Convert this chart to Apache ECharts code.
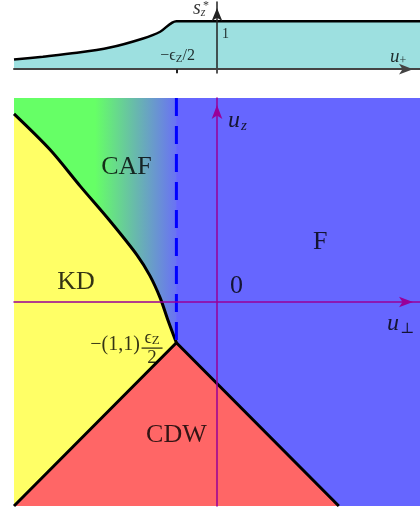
<!DOCTYPE html>
<html>
<head>
<meta charset="utf-8">
<script src="https://cdn.jsdelivr.net/npm/echarts@6/dist/echarts.min.js"></script>
<style>
  html, body { margin: 0; padding: 0; background: #fff; }
  #main { width: 420px; height: 510px; }
</style>
</head>
<body>
<div id="main"></div>
<script>
// top strip: s_z* against u_perp (eps_z/2 = 1)
var sCurveU = [-5, -4.29, -3.45, -2.64, -1.82, -1.4, -1, 5];
var sCurveS = [0.20, 0.26, 0.34, 0.45, 0.64, 0.78, 1.0, 1.0];
// KD / CAF boundary
var kdU = [-5.00, -4.11, -3.37, -2.64, -1.97, -1.65, -1.40, -1.21, -1.00];
var kdZ = [4.61, 3.73, 2.84, 1.99, 1.15, 0.64, 0.10, -0.44, -1.00];
// CDW wedge: left foot, kink, right foot
var cdwU = [-5, -1, 3];
var cdwZ = [-5, -1, -5];
// CAF / F edge (dashed)
var cafU = [-1, -1];
var cafZ = [5, -1];
// phase diagram box
var boxU = [-5, 5];
var boxZ = [-5, 5];

var serif = 'Liberation Serif, DejaVu Serif, serif';
var purple = '#990099';

function zip(a, b) {
  var out = [];
  for (var i = 0; i < a.length; i++) out.push([a[i], b[i]]);
  return out;
}

var kd = zip(kdU, kdZ);
var greenPts = [[boxU[0], boxZ[1]], [cafU[0], cafZ[0]]].concat(kd.slice().reverse());
var yellowPts = kd.concat([[cdwU[0], cdwZ[0]]]);
var redPts = zip(cdwU, cdwZ);

// filled region on the phase grid
function region(pts, fill) {
  return {
    type: 'custom', xAxisIndex: 1, yAxisIndex: 1, z: 1, silent: true,
    data: [0],
    renderItem: function (params, api) {
      return {
        type: 'polygon',
        shape: { points: pts.map(function (p) { return api.coord(p); }) },
        style: { fill: fill }
      };
    }
  };
}

function lab(x, y, text, extra) {
  var l = { show: true, position: 'inside', formatter: text, color: '#000',
    fontFamily: serif, fontSize: 26, textBorderWidth: 0 };
  for (var k in extra) l[k] = extra[k];
  return { value: [x, y], label: l };
}

var rich = {
  it: { fontFamily: serif, fontStyle: 'italic', fontSize: 24, color: '#000' },
  sub: { fontFamily: serif, fontStyle: 'italic', fontSize: 15, color: '#000', padding: [10, 0, 0, 1] },
  up: { fontFamily: serif, fontSize: 15, color: '#000', padding: [10, 0, 0, 1] },
  t: { fontFamily: serif, fontSize: 20, color: '#000' },
  n: { fontFamily: serif, fontSize: 18, color: '#000', lineHeight: 17 },
  nz: { fontFamily: serif, fontSize: 13, color: '#000', lineHeight: 17, padding: [4, 0, 0, 0] },
  bar: { width: 21, height: 1.3, backgroundColor: '#000', lineHeight: 3 },
  d: { fontFamily: serif, fontSize: 19, color: '#000', lineHeight: 17 },
  s: { fontFamily: serif, fontStyle: 'italic', fontSize: 20, color: '#000' },
  ssub: { fontFamily: serif, fontStyle: 'italic', fontSize: 12, color: '#000', padding: [8, 0, 0, 0] },
  e: { fontFamily: serif, fontSize: 16, color: '#000' },
  ez: { fontFamily: serif, fontSize: 11, color: '#000', padding: [5, 0, 0, 0] },
  uu: { fontFamily: serif, fontStyle: 'italic', fontSize: 19, color: '#000' },
  usub: { fontFamily: serif, fontSize: 12, color: '#000', padding: [8, 0, 0, 0] }
};

var mainLabels = [
  lab(-2.23, 3.31, 'CAF'),
  lab(-3.47, 0.49, 'KD'),
  lab(2.54, 1.46, 'F'),
  lab(0.48, 0.39, '0'),
  lab(-1.0, -3.26, 'CDW'),
  lab(0.27, 4.44, '{it|u}{sub|z}', { align: 'left', rich: rich }),
  lab(4.19, -0.54, '{it|u}{up|⊥}', { align: 'left', rich: rich }),
  lab(-2.51, -1.05, '{t|−(1,1)}', { rich: rich }),
  lab(-1.60, -1.13, '{n|ϵ}{nz|Z}\n{bar|}\n{d|2}', { rich: rich, align: 'center' })
];

var topLabels = [
  lab(-0.59, 1.25, '{s|s}{ssub|z}', { align: 'left', rich: rich }),
  lab(-0.27, 1.31, '*', { fontSize: 12 }),
  lab(0.21, 0.73, '1', { fontSize: 14 }),
  lab(-0.97, 0.27, '{e|−ϵ}{ez|Z}{e|/2}', { rich: rich }),
  lab(4.26, 0.25, '{uu|u}{usub|+}', { align: 'left', rich: rich })
];

var chart = echarts.init(document.getElementById('main'));
chart.setOption({
  animation: false,
  backgroundColor: '#fff',
  grid: [
    { left: 14, top: 2, width: 406, height: 71 },
    { left: 14, top: 98, width: 406, height: 408, show: true, backgroundColor: '#6666ff', borderWidth: 0 }
  ],
  xAxis: [
    { type: 'value', gridIndex: 0, min: boxU[0], max: boxU[1], z: 5,
      axisLine: { onZero: true, symbol: ['none', 'arrow'], symbolSize: [8, 14], symbolOffset: [0, -7],
        lineStyle: { color: '#444', width: 2 } },
      axisTick: { show: true, customValues: [-1], length: 4, lineStyle: { color: '#222', width: 2 } },
      axisLabel: { show: false }, splitLine: { show: false } },
    { type: 'value', gridIndex: 1, min: boxU[0], max: boxU[1], z: 5,
      axisLine: { onZero: true, symbol: ['none', 'arrow'], symbolSize: [8, 14], symbolOffset: [0, -7],
        lineStyle: { color: purple, width: 1.5 } },
      axisTick: { show: false }, axisLabel: { show: false }, splitLine: { show: false } }
  ],
  yAxis: [
    { type: 'value', gridIndex: 0, min: -0.08, max: 1.4, z: 5,
      axisLine: { onZero: true, symbol: ['none', 'arrow'], symbolSize: [8, 13], symbolOffset: [0, -6],
        lineStyle: { color: '#222', width: 1.5 } },
      axisTick: { show: false }, axisLabel: { show: false }, splitLine: { show: false } },
    { type: 'value', gridIndex: 1, min: boxZ[0], max: boxZ[1], z: 5,
      axisLine: { onZero: true, symbol: ['none', 'arrow'], symbolSize: [8, 14], symbolOffset: [0, -7],
        lineStyle: { color: purple, width: 1.5 } },
      axisTick: { show: false }, axisLabel: { show: false }, splitLine: { show: false } }
  ],
  series: [
    { type: 'line', xAxisIndex: 0, yAxisIndex: 0, data: zip(sCurveU, sCurveS),
      smooth: 0.3, showSymbol: false, silent: true, z: 2,
      lineStyle: { color: '#000', width: 2.5 },
      areaStyle: { color: '#9de0e0', opacity: 1 } },
    region(greenPts, new echarts.graphic.LinearGradient(0, 0, 1, 0, [
      { offset: 0, color: '#66ff66' },
      { offset: 0.5, color: '#66ff66' },
      { offset: 1, color: '#6a72f4' }
    ])),
    region(yellowPts, '#ffff66'),
    region(redPts, '#ff6666'),
    { type: 'line', xAxisIndex: 1, yAxisIndex: 1, data: kd, smooth: 0.3,
      showSymbol: false, silent: true, z: 3, lineStyle: { color: '#000', width: 3 } },
    { type: 'line', xAxisIndex: 1, yAxisIndex: 1, data: zip(cdwU, cdwZ),
      showSymbol: false, silent: true, z: 3, lineStyle: { color: '#000', width: 3 } },
    { type: 'line', xAxisIndex: 1, yAxisIndex: 1, data: zip(cafU, cafZ),
      showSymbol: false, silent: true, z: 3,
      lineStyle: { color: '#0000ff', width: 3, type: [18, 10] } },
    { type: 'scatter', xAxisIndex: 1, yAxisIndex: 1, symbolSize: 0, silent: true, z: 10, data: mainLabels },
    { type: 'scatter', xAxisIndex: 0, yAxisIndex: 0, symbolSize: 0, silent: true, z: 10, data: topLabels }
  ]
});
</script>
</body>
</html>
